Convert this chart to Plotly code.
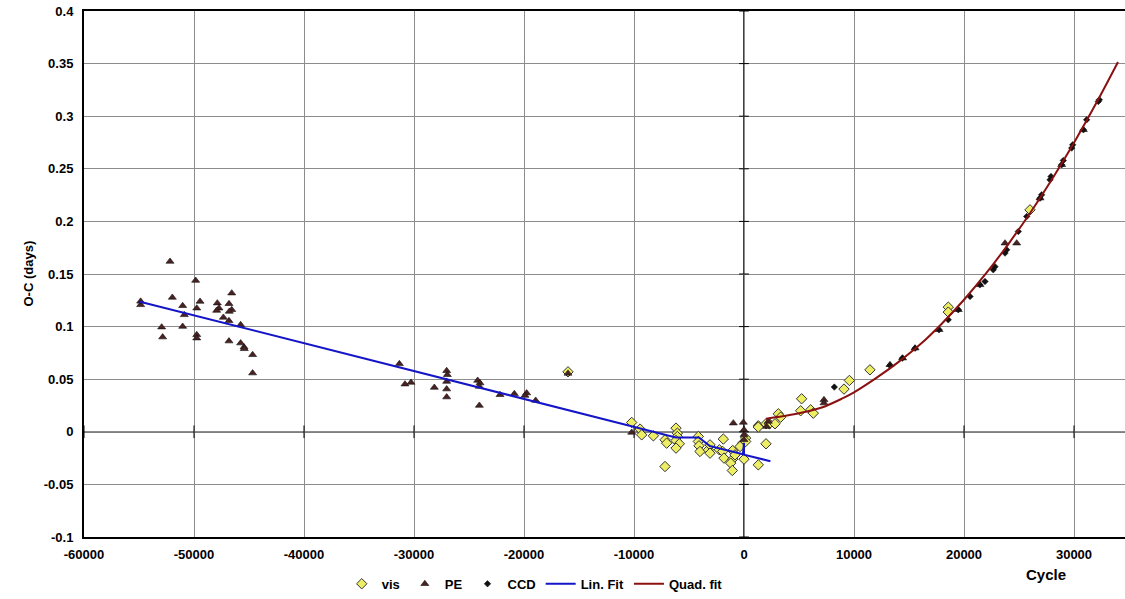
import plotly.graph_objects as go

# ---- data ----
vis_x = [-16000, -10210, -9450, -9300, -8240, -7180, -7030, -6180, -6060, -6060, -6180, -5880, -6180,
         -4150, -4150, -4090, -4000, -3240, -3090, -3090, -2240, -1880, -1940, -1820, -1030, -1030,
         -1210, -1060, -820, -120, 0, 150, 150, -360, -7180,
         1300, 1300, 1300, 2000, 2000, 2300, 2820, 3120, 3330, 5240, 5150, 6060, 6300, 9090, 9580,
         11450, 18570, 18570, 26000]
vis_y = [0.057, 0.0089, 0.0026, -0.0029, -0.0038, -0.0076, -0.0108, 0.0035, -0.0013, -0.0045, -0.0083,
         -0.0114, -0.0155, -0.0045, -0.0092, -0.0133, -0.0187, -0.0171, -0.0124, -0.0203, -0.0171,
         -0.0069, -0.0187, -0.025, -0.0178, -0.026, -0.0298, -0.0368, -0.0219, -0.0108, -0.026,
         -0.006, -0.0092, -0.014, -0.033,
         0.0057, 0.0045, -0.0314, -0.0114, 0.0076, 0.0076, 0.0076, 0.0171, 0.0139, 0.0314, 0.020,
         0.0209, 0.0177, 0.0406, 0.0488, 0.0589, 0.1185, 0.1138, 0.211]

pe_x = [-52180, -49850, -54850, -54850, -51970, -51030, -50880, -49750, -49450, -52940, -52850, -51030,
        -49750, -49750, -47880, -47730, -47940, -46570, -46820, -46570, -46790, -47330, -46820,
        -46820, -45760, -45450, -45430, -44670, -44670, -45760,
        -31330, -30820, -30270, -28150, -27030, -26970, -27030, -27030, -27030, -24210, -24000,
        -24060, -24060, -22180, -20880, -19760, -19910, -18940,
        -16000, -10210, -970, -60, 0, 0, 0, 2060, 2210, 7270, 7270, 13270, 14420, 15550,
        17730, 19480, 21450, 23730, 24790, 26910, 28880, 30850]
pe_y = [0.1619, 0.1438, 0.1207, 0.1240, 0.1277, 0.1198, 0.1112, 0.1175, 0.1239, 0.0995, 0.090, 0.1001,
        0.0922, 0.089, 0.1223, 0.1175, 0.1153, 0.1318, 0.1217, 0.116, 0.1144, 0.1087, 0.1055,
        0.0862, 0.0843, 0.0805, 0.0789, 0.0732, 0.0558, 0.1017,
        0.0646, 0.0453, 0.0469, 0.0421, 0.058, 0.0542, 0.0478, 0.0406, 0.033, 0.0488, 0.0463,
        0.0431, 0.025, 0.0352, 0.0361, 0.0368, 0.0345, 0.0298,
        0.0555, -0.0006, 0.0082, 0.0089, 0.0019, -0.0029, -0.0076, 0.005, 0.0098, 0.0304, 0.0273,
        0.0637, 0.070, 0.0795, 0.097, 0.116, 0.1397, 0.1793, 0.1793, 0.2221, 0.2538, 0.2871]

ccd_x = [8210, 13270, 14390, 15550, 17730, 18570, 19480, 20550, 21450, 21910, 22660, 22820, 23730,
         23880, 24940, 25700, 26910, 27060, 27820, 27910, 28880, 29030, 29790, 29880, 30850, 31150,
         32210, 32300]
ccd_y = [0.0425, 0.063, 0.070, 0.0795, 0.097, 0.1065, 0.116, 0.1286, 0.1397, 0.1429, 0.154, 0.157,
         0.1699, 0.173, 0.1904, 0.2047, 0.2221, 0.2253, 0.2395, 0.2427, 0.2538, 0.2579, 0.2697,
         0.2728, 0.2871, 0.2966, 0.314, 0.3156]

lin_x = [-55000, -10000, -6200, -4100, -3100, -100, 0, 0, 2400]
lin_y = [0.1239, 0.0048, -0.0053, -0.0053, -0.0135, -0.0214, -0.0105, -0.0217, -0.028]

quad_x = [2000, 3000, 5000, 7000, 9000, 10000, 12000, 14000, 16000, 18000, 20000, 22000, 24000,
          26000, 28000, 30000, 32000, 34000]
quad_y = [0.0124, 0.014, 0.0177, 0.0228, 0.0320, 0.0375, 0.051, 0.066, 0.0829, 0.1030, 0.1255,
          0.1505, 0.1780, 0.2078, 0.2401, 0.2748, 0.3120, 0.3515]

x_ticks = [-60000, -50000, -40000, -30000, -20000, -10000, 0, 10000, 20000, 30000]
y_ticks = [-0.1, -0.05, 0, 0.05, 0.1, 0.15, 0.2, 0.25, 0.3, 0.35, 0.4]
y_labels = ["-0.1", "-0.05", "0", "0.05", "0.1", "0.15", "0.2", "0.25", "0.3", "0.35", "0.4"]

FONT = "Liberation Sans"

fig = go.Figure()

# small tick crosses on the zero axes
fig.add_trace(go.Scatter(x=[0] * len(y_ticks), y=y_ticks, mode="markers",
                         marker=dict(symbol="line-ew", size=7, line=dict(color="black", width=1)),
                         showlegend=False, hoverinfo="skip"))
fig.add_trace(go.Scatter(x=x_ticks, y=[0] * len(x_ticks), mode="markers",
                         marker=dict(symbol="line-ns", size=9, line=dict(color="black", width=1)),
                         showlegend=False, hoverinfo="skip"))

fig.add_trace(go.Scatter(x=vis_x, y=vis_y, mode="markers", name="vis",
                         marker=dict(symbol="diamond", size=8, color="#eeee66",
                                     line=dict(color="#333333", width=1))))
fig.add_trace(go.Scatter(x=pe_x, y=pe_y, mode="markers", name="PE",
                         marker=dict(symbol="triangle-up", size=7, color="#4a2222",
                                     line=dict(color="#111111", width=0.6))))
fig.add_trace(go.Scatter(x=ccd_x, y=ccd_y, mode="markers", name="CCD",
                         marker=dict(symbol="diamond", size=5, color="#111111",
                                     line=dict(color="#111111", width=0.5))))
fig.add_trace(go.Scatter(x=lin_x, y=lin_y, mode="lines", name="Lin. Fit",
                         line=dict(color="#1515c8", width=2)))
fig.add_trace(go.Scatter(x=quad_x, y=quad_y, mode="lines", name="Quad. fit",
                         line=dict(color="#8b1010", width=2, shape="spline")))

fig.update_layout(
    width=1125, height=599,
    margin=dict(l=84, r=0, t=11, b=62, autoexpand=False),
    paper_bgcolor="white", plot_bgcolor="white",
    font=dict(family=FONT, size=13, color="black", weight="bold"),
    legend=dict(orientation="h", x=0.433, y=-0.089, xanchor="center", yanchor="middle",
                font=dict(family=FONT, size=13, weight="bold"), bgcolor="rgba(0,0,0,0)",
                itemwidth=30, tracegroupgap=0),
    annotations=[
        dict(text="Cycle", x=0.945, y=-0.091, xref="paper", yref="paper",
             showarrow=False, font=dict(family=FONT, size=15, weight="bold")),
        dict(text="O-C (days)", x=-0.0634, y=0.5, xref="paper", yref="paper", textangle=-90,
             showarrow=False, font=dict(family=FONT, size=13, weight="bold")),
    ],
)
fig.update_xaxes(range=[-60000, 34636], tickvals=x_ticks, ticktext=[str(v) for v in x_ticks],
                 showgrid=True, gridcolor="#8c8c8c", gridwidth=1, automargin=False,
                 zeroline=False, showline=True, mirror=True, linecolor="black", linewidth=2,
                 ticks="", ticklabelstandoff=4, ticklabeloverflow="allow",
                 tickfont=dict(family=FONT, size=13, weight="bold"))
fig.update_yaxes(range=[-0.1, 0.4], tickvals=y_ticks, ticktext=y_labels,
                 showgrid=True, gridcolor="#8c8c8c", gridwidth=1, automargin=False,
                 zeroline=False, showline=True, mirror=True, linecolor="black", linewidth=2,
                 ticks="", ticklabelstandoff=6, ticklabeloverflow="allow",
                 tickfont=dict(family=FONT, size=13, weight="bold"))

# zero axes drawn as black lines
fig.add_hline(y=0, line=dict(color="black", width=1.5), layer="below")
fig.add_vline(x=0, line=dict(color="black", width=1.5), layer="below")

# remove the default 8px body margin so the figure sits at the window's top-left corner
fig.write_html("out.html", config={"displayModeBar": False},
               post_script="document.body.style.margin='0px';")
